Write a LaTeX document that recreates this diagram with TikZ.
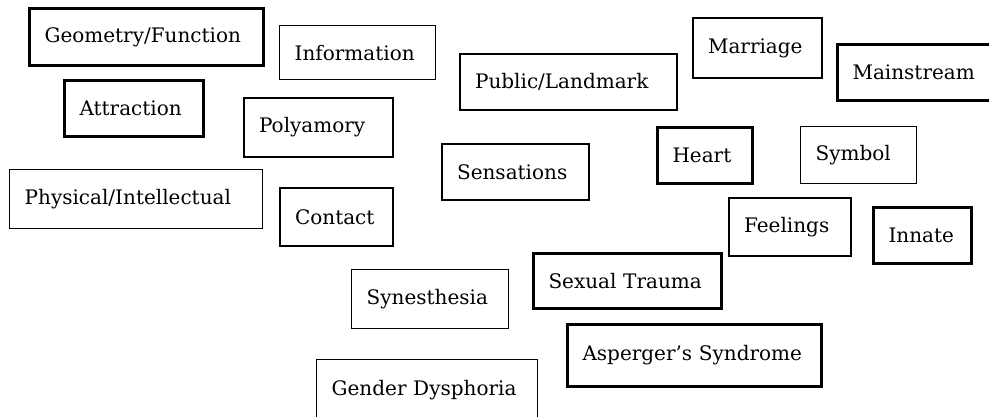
\documentclass[tikz,border=0pt]{standalone}
\usepackage{fontspec}
\setmainfont{DejaVu Serif}
\usepackage{tikz}

\begin{document}
\begin{tikzpicture}[x=0.75pt, y=-0.75pt, word/.style={draw, rectangle, anchor=north west, inner xsep=11.25pt, inner ysep=0pt, align=left, font=\fontsize{15}{18}\selectfont}]
    \tikzset{lightbox/.style={word, line width=1pt}}
    \tikzset{midbox/.style={word, line width=1.6pt}, heavybox/.style={word, line width=2.3pt}}
    \clip (0,0) rectangle (989,417);
    % left column
    \node[heavybox, text width=153pt, minimum height=42.75pt] (geo) at (28,7) {Geometry/Function};
    \node[heavybox, text width=81.75pt, minimum height=42pt] (attr) at (63,79) {Attraction};
    \node[lightbox, text width=167.25pt, minimum height=44.25pt] (phys) at (9,169) {Physical/Intellectual};
    \node[lightbox, text width=94.5pt, minimum height=40.5pt] (info) at (279,25) {Information};
    \node[midbox, text width=89.25pt, minimum height=44.25pt] (poly) at (243,97) {Polyamory};
    \node[midbox, text width=62.25pt, minimum height=43.5pt] (cont) at (279,187) {Contact};
    % middle
    \node[midbox, text width=140.25pt, minimum height=42pt] (pub) at (459,53) {Public/Landmark};
    \node[midbox, text width=87.75pt, minimum height=42pt] (sens) at (441,143) {Sensations};
    \node[lightbox, text width=95.25pt, minimum height=44.25pt] (syn) at (351,269) {Synesthesia};
    \node[heavybox, text width=118.5pt, minimum height=41.25pt] (trauma) at (532,252) {Sexual Trauma};
    \node[heavybox, text width=168pt, minimum height=46.5pt] (asp) at (566,323) {Asperger's Syndrome};
    \node[lightbox, text width=143.25pt, minimum height=45pt] (gend) at (316,359) {Gender Dysphoria};
    % right
    \node[midbox, text width=74.25pt, minimum height=45pt] (marr) at (692,17) {Marriage};
    \node[heavybox, text width=100.5pt, minimum height=42pt] (main) at (836,43) {Mainstream};
    \node[heavybox, text width=48.75pt, minimum height=42pt] (heart) at (656,126) {Heart};
    \node[lightbox, text width=64.5pt, minimum height=42.75pt] (sym) at (800,126) {Symbol};
    \node[midbox, text width=69pt, minimum height=43.5pt] (feel) at (728,197) {Feelings};
    \node[heavybox, text width=51pt, minimum height=42pt] (inn) at (872,206) {Innate};
\end{tikzpicture}
\end{document}
